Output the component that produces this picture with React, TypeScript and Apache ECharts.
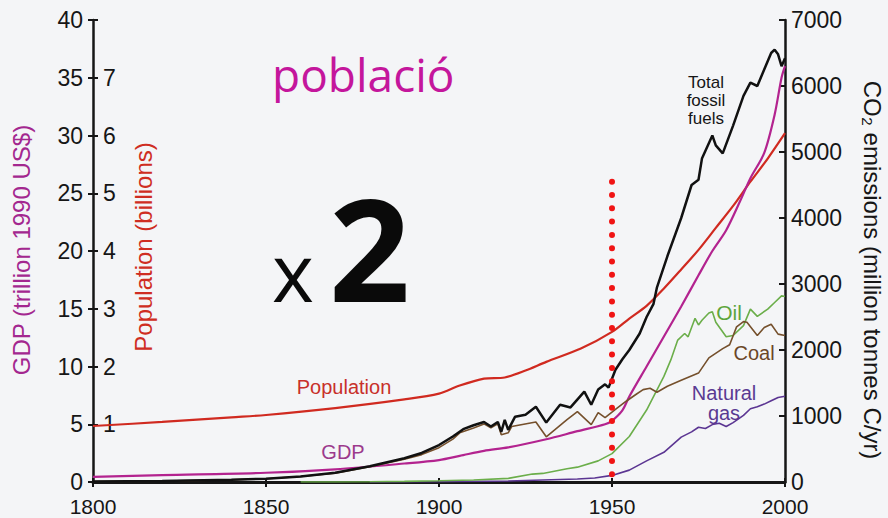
import React, { useEffect, useRef } from "react";
import * as echarts from "echarts";

// ---- Data ----
const gdpYears = [1800, 1820, 1850, 1870, 1890, 1900, 1906, 1913, 1920, 1931, 1940, 1948, 1950, 1953, 1955, 1960, 1965, 1970, 1975, 1979, 1983, 1987, 1990, 1994, 1997, 1999, 2000];
const gdpValues = [0.45, 0.6, 0.8, 1.1, 1.6, 1.9, 2.26, 2.7, 3.0, 3.7, 4.4, 5.0, 5.3, 6.2, 7.4, 10.0, 12.6, 15.2, 17.9, 20.0, 21.8, 24.3, 26.3, 28.5, 31.8, 35.0, 36.0];

const popYears = [1800, 1820, 1840, 1850, 1870, 1890, 1900, 1906, 1913, 1919, 1925, 1931, 1941, 1950, 1955, 1960, 1965, 1970, 1975, 1980, 1985, 1990, 1995, 2000];
const popValues = [0.97, 1.04, 1.12, 1.16, 1.28, 1.43, 1.53, 1.67, 1.79, 1.81, 1.93, 2.08, 2.31, 2.6, 2.83, 3.05, 3.35, 3.68, 4.02, 4.4, 4.78, 5.2, 5.6, 6.04];

const fossilYears = [1800, 1820, 1840, 1850, 1860, 1870, 1880, 1890, 1895, 1900, 1904, 1907, 1910, 1913, 1915, 1917, 1918, 1919, 1920, 1922, 1925, 1928, 1931, 1935, 1938, 1942, 1944, 1946, 1948, 1949, 1951, 1953, 1955, 1958, 1960, 1962, 1963, 1966, 1970, 1973, 1975, 1976, 1979, 1980, 1982, 1985, 1988, 1990, 1992, 1996, 1997, 1998, 1999, 2000];
const fossilValues = [8, 14, 33, 50, 85, 140, 240, 360, 440, 560, 690, 800, 860, 910, 840, 910, 760, 940, 790, 990, 1020, 1140, 900, 1170, 1130, 1370, 1170, 1400, 1480, 1430, 1700, 1860, 2000, 2250, 2500, 2700, 2950, 3420, 4000, 4500, 4580, 4900, 5250, 5100, 4980, 5400, 5850, 6050, 6000, 6500, 6550, 6480, 6300, 6420];

const coalYears = [1800, 1820, 1840, 1850, 1860, 1870, 1880, 1890, 1895, 1900, 1904, 1906, 1910, 1913, 1915, 1917, 1918, 1920, 1921, 1928, 1931, 1937, 1940, 1944, 1946, 1948, 1951, 1954, 1957, 1959, 1961, 1963, 1966, 1970, 1975, 1978, 1982, 1984, 1986, 1988, 1989, 1992, 1994, 1996, 1998, 2000];
const coalValues = [8, 14, 33, 50, 84, 135, 230, 345, 415, 520, 650, 745, 820, 880, 820, 880, 715, 745, 840, 910, 685, 945, 1065, 870, 1050, 975, 1100, 1220, 1330, 1400, 1420, 1360, 1450, 1540, 1650, 1880, 2020, 2080, 2350, 2430, 2420, 2220, 2340, 2390, 2240, 2220];

const oilYears = [1860, 1870, 1880, 1890, 1900, 1910, 1920, 1927, 1930, 1937, 1940, 1946, 1950, 1955, 1960, 1965, 1967, 1969, 1971, 1972, 1974, 1975, 1976, 1978, 1979, 1980, 1983, 1985, 1988, 1990, 1992, 1995, 1997, 1999, 2000];
const oilValues = [0, 1, 4, 10, 18, 30, 55, 120, 130, 200, 225, 320, 430, 690, 1090, 1600, 1850, 2150, 2250, 2200, 2480, 2380, 2450, 2560, 2580, 2420, 2200, 2220, 2370, 2620, 2510, 2620, 2720, 2820, 2810];

const gasYears = [1880, 1900, 1920, 1930, 1940, 1945, 1950, 1955, 1960, 1965, 1970, 1973, 1975, 1977, 1979, 1981, 1983, 1985, 1988, 1990, 1992, 1994, 1996, 1998, 2000];
const gasValues = [0, 3, 15, 30, 45, 60, 100, 180, 320, 450, 680, 760, 830, 810, 870, 890, 840, 900, 1010, 1110, 1140, 1180, 1230, 1280, 1300];

const markerYears = [1950, 1950];
const markerValues = [4550, 110];

const xTickLabels = [1800, 1850, 1900, 1950, 2000];
const popTickLabels = [1, 2, 3, 4, 5, 6, 7];

const pair = (xs: number[], ys: number[]) => xs.map((x, i) => [x, ys[i]]);

const FONT = "'Liberation Sans', Arial, Helvetica, sans-serif";
const INK = "#161616";

export default function App() {
  const ref = useRef<HTMLDivElement>(null);
  useEffect(() => {
    if (!ref.current) return;
    const chart = echarts.init(ref.current, undefined, { renderer: "svg" });
    const lineBase = { type: "line" as const, symbol: "none", silent: true, xAxisIndex: 0 };
    chart.setOption({
      animation: false,
      backgroundColor: "#f4f5f7",
      textStyle: { fontFamily: FONT },
      grid: { left: 93, right: 103, top: 20, bottom: 36, containLabel: false },
      xAxis: [
        {
          type: "value", min: 1800, max: 2000, interval: 50, position: "bottom",
          axisLine: { show: true, lineStyle: { color: INK, width: 3 } },
          axisTick: { show: true, length: 5, lineStyle: { color: INK, width: 2 } },
          axisLabel: {
            fontSize: 21, color: INK, margin: 14, fontFamily: FONT,
            formatter: (v: number) => (xTickLabels.includes(v) ? String(v) : ""),
          },
          splitLine: { show: false },
        },
        {
          type: "value", min: 1800, max: 2000, interval: 50, position: "top",
          axisLine: { show: true, lineStyle: { color: INK, width: 2 } },
          axisTick: { show: true, length: 4, lineStyle: { color: INK, width: 2 } },
          axisLabel: { show: false },
          splitLine: { show: false },
        },
      ],
      yAxis: [
        {
          type: "value", min: 0, max: 40, interval: 5, position: "left",
          axisLine: { show: true, lineStyle: { color: INK, width: 2.5 } },
          axisTick: { show: true, length: 5, lineStyle: { color: INK, width: 2 } },
          axisLabel: { fontSize: 23, color: INK, margin: 10, fontFamily: FONT },
          splitLine: { show: false },
        },
        {
          type: "value", min: 0, max: 8, interval: 1, position: "left",
          axisLine: { show: false },
          axisTick: { show: true, inside: true, length: 5, lineStyle: { color: INK, width: 2 } },
          axisLabel: {
            inside: true, fontSize: 23, color: INK, margin: 10, fontFamily: FONT,
            formatter: (v: number) => (popTickLabels.includes(v) ? String(v) : ""),
          },
          splitLine: { show: false },
        },
        {
          type: "value", min: 0, max: 7000, interval: 1000, position: "right",
          axisLine: { show: true, lineStyle: { color: INK, width: 2.5 } },
          axisTick: { show: true, inside: true, length: 6, lineStyle: { color: INK, width: 2 } },
          axisLabel: { fontSize: 23, color: INK, margin: 6, fontFamily: FONT, formatter: (v: number) => String(v) },
          splitLine: { show: false },
        },
      ],
      series: [
        { ...lineBase, name: "Population", yAxisIndex: 1, smooth: 0.3, data: pair(popYears, popValues), lineStyle: { color: "#d02a20", width: 2.2 } },
        { ...lineBase, name: "GDP", yAxisIndex: 0, smooth: 0.3, data: pair(gdpYears, gdpValues), lineStyle: { color: "#b3238f", width: 2.2 } },
        { ...lineBase, name: "Natural gas", yAxisIndex: 2, data: pair(gasYears, gasValues), lineStyle: { color: "#5b3592", width: 1.6 } },
        { ...lineBase, name: "Oil", yAxisIndex: 2, data: pair(oilYears, oilValues), lineStyle: { color: "#6bae4a", width: 1.6 } },
        { ...lineBase, name: "Coal", yAxisIndex: 2, data: pair(coalYears, coalValues), lineStyle: { color: "#75502c", width: 1.6 } },
        { ...lineBase, name: "Total fossil fuels", yAxisIndex: 2, data: pair(fossilYears, fossilValues), lineStyle: { color: "#111111", width: 2.5 } },
        { ...lineBase, name: "1950", yAxisIndex: 2, data: pair(markerYears, markerValues), lineStyle: { color: "#f01414", width: 6, type: [0, 13.3], cap: "round" } },
      ],
      graphic: [
        { type: "text", x: 21, y: 250, rotation: Math.PI / 2, style: { text: "GDP (trillion 1990 US$)", fontSize: 24, fontFamily: FONT, fill: "#a3278f", textAlign: "center", textVerticalAlign: "middle" } },
        { type: "text", x: 143, y: 247, rotation: Math.PI / 2, style: { text: "Population (billions)", fontSize: 24, fontFamily: FONT, fill: "#cf2d22", textAlign: "center", textVerticalAlign: "middle" } },
        { type: "text", x: 872, y: 270, rotation: -Math.PI / 2, style: { text: "CO₂ emissions (million tonnes C/yr)", fontSize: 24, fontFamily: FONT, fill: INK, textAlign: "center", textVerticalAlign: "middle" } },
        { type: "text", x: 706, y: 100, style: { text: "Total\nfossil\nfuels", fontSize: 17, lineHeight: 18, fontFamily: FONT, fill: INK, textAlign: "center", textVerticalAlign: "middle" } },
        { type: "text", x: 729, y: 312, style: { text: "Oil", fontSize: 21, fontFamily: FONT, fill: "#5ea53c", textAlign: "center", textVerticalAlign: "middle" } },
        { type: "text", x: 754, y: 353, style: { text: "Coal", fontSize: 20, fontFamily: FONT, fill: "#6b4627", textAlign: "center", textVerticalAlign: "middle" } },
        { type: "text", x: 724, y: 403, style: { text: "Natural\ngas", fontSize: 20, lineHeight: 20, fontFamily: FONT, fill: "#5a3a92", textAlign: "center", textVerticalAlign: "middle" } },
        { type: "text", x: 344, y: 387, style: { text: "Population", fontSize: 20, fontFamily: FONT, fill: "#c8302a", textAlign: "center", textVerticalAlign: "middle" } },
        { type: "text", x: 343, y: 452, style: { text: "GDP", fontSize: 20, fontFamily: FONT, fill: "#9c3a8c", textAlign: "center", textVerticalAlign: "middle" } },
        { type: "text", x: 272, y: 74, style: { text: "població", fontSize: 46, fontFamily: "'Open Sans', sans-serif", fill: "#c4169c", textAlign: "left", textVerticalAlign: "middle" } },
        { type: "text", x: 272, y: 270, style: { text: "x", fontSize: 80, fontFamily: "'Open Sans', sans-serif", fill: "#0a0a0a", textAlign: "left", textVerticalAlign: "middle" } },
        { type: "text", x: 329, y: 247, style: { text: "2", fontSize: 142, fontWeight: "bold", fontFamily: "'Open Sans', sans-serif", fill: "#0a0a0a", textAlign: "left", textVerticalAlign: "middle" } },
      ],
    });
    return () => chart.dispose();
  }, []);
  return <div ref={ref} style={{ position: "fixed", left: 0, top: 0, width: 888, height: 518 }} />;
}
